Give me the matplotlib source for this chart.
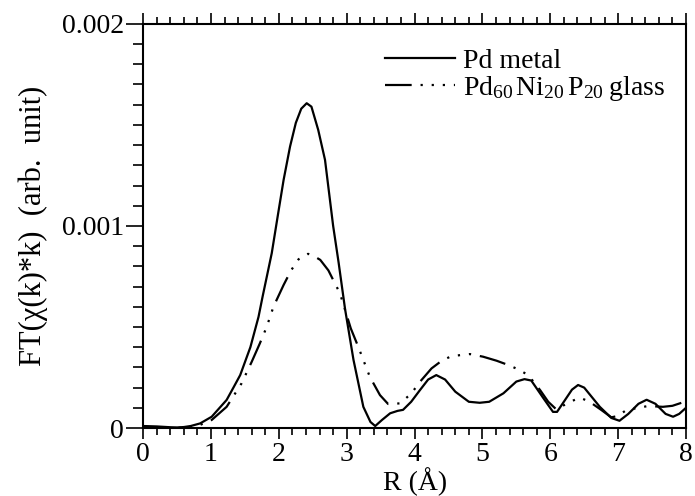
import matplotlib
matplotlib.use("Agg")
import matplotlib.pyplot as plt
from matplotlib.ticker import MultipleLocator

plt.rcParams["font.family"] = ["Liberation Serif", "DejaVu Serif"]
plt.rcParams["mathtext.fontset"] = "custom"
plt.rcParams["mathtext.rm"] = "Liberation Serif"
plt.rcParams["mathtext.it"] = "Liberation Serif:italic"

# Fourier transform magnitude |FT(chi(k)*k)| vs R
r_metal = [0.0, 0.2, 0.4, 0.5, 0.6, 0.7, 0.84, 1.01, 1.1, 1.23, 1.33, 1.43,
           1.58, 1.70, 1.76, 1.895, 1.99, 2.07, 2.165, 2.25, 2.33, 2.41,
           2.48, 2.58, 2.68, 2.80, 2.88, 2.975, 3.10, 3.245, 3.35, 3.42,
           3.52, 3.64, 3.75, 3.83, 3.95, 4.08, 4.2, 4.32, 4.45, 4.6, 4.8,
           4.96, 5.1, 5.31, 5.5, 5.62, 5.72, 5.9, 6.04, 6.1, 6.2, 6.32,
           6.41, 6.5, 6.73, 6.9, 7.02, 7.15, 7.3, 7.42, 7.55, 7.7, 7.81,
           7.9, 8.0]
ft_metal = [0.000010, 0.000008, 0.000004, 0.000003, 0.000005, 0.000010,
            0.000023, 0.000056, 0.000090, 0.000139, 0.000200, 0.000262,
            0.000400, 0.000550, 0.000650, 0.000865, 0.001063, 0.001228,
            0.001393, 0.001510, 0.001580, 0.001607, 0.001590, 0.001475,
            0.001327, 0.001000, 0.000820, 0.000590, 0.000337, 0.000105,
            0.000030, 0.000010, 0.000040, 0.000073, 0.000085, 0.000090,
            0.000130, 0.000188, 0.000240, 0.000262, 0.000240, 0.000180,
            0.000130, 0.000125, 0.000130, 0.000172, 0.000230, 0.000242,
            0.000235, 0.000147, 0.000080, 0.000080, 0.000130, 0.000190,
            0.000213, 0.000200, 0.000105, 0.000050, 0.000036, 0.000070,
            0.000120, 0.000140, 0.000120, 0.000070, 0.000056, 0.000070,
            0.000100]

r_glass = [0.0, 0.5, 0.8, 1.01, 1.23, 1.45, 1.60, 1.72, 1.82, 1.92, 2.07,
           2.18, 2.29, 2.43, 2.52, 2.61, 2.73, 2.80, 2.90, 3.06, 3.17, 3.34,
           3.49, 3.61, 3.785, 3.95, 4.08, 4.25, 4.40, 4.545, 4.815, 5.01,
           5.21, 5.38, 5.53, 5.675, 5.85, 5.97, 6.09, 6.29, 6.44, 6.58,
           6.75, 6.90, 7.0, 7.12, 7.3, 7.44, 7.66, 7.8, 7.98]
ft_glass = [0.0, 0.0, 0.000010, 0.000040, 0.000105, 0.000221, 0.000328,
            0.000419, 0.000500, 0.000600, 0.000708, 0.000780, 0.000835,
            0.000862, 0.000850, 0.000832, 0.000780, 0.000733, 0.000667,
            0.000493, 0.000402, 0.000254, 0.000163, 0.000119, 0.000122,
            0.000170, 0.000229, 0.000295, 0.000333, 0.000356, 0.000366,
            0.000353, 0.000333, 0.000312, 0.000290, 0.000262, 0.000188,
            0.000130, 0.000092, 0.000130, 0.000150, 0.000130, 0.000090,
            0.000053, 0.000060, 0.000089, 0.000100, 0.000109, 0.000105,
            0.000110, 0.000130]

fig = plt.figure(figsize=(6.95, 4.96), dpi=100)
ax = fig.add_axes([0.206, 0.137, 0.781, 0.815])

ax.plot(r_metal, ft_metal, color="black", lw=1.6, label="Pd metal")
ax.plot(r_glass, ft_glass, color="black", lw=1.6,
        dashes=(12, 4, 1.0, 4, 1.0, 4, 1.0, 4),
        label=r"Pd$_{60}\,$Ni$_{20}\,$P$_{20}\;$glass")

ax.set_xlim(0, 8)
ax.set_ylim(0, 0.002)
ax.xaxis.set_major_locator(MultipleLocator(1))
ax.xaxis.set_minor_locator(MultipleLocator(0.2))
ax.yaxis.set_major_locator(MultipleLocator(0.001))
ax.yaxis.set_minor_locator(MultipleLocator(0.0001))
ax.yaxis.set_major_formatter(plt.FuncFormatter(
    lambda v, p: "0" if v == 0 else f"{v:.3f}"))

ax.tick_params(which="both", direction="out", top=True, right=False,
               labelsize=20, width=1.2, pad=2)
ax.tick_params(axis="x", which="major", length=8)
ax.tick_params(axis="x", which="minor", length=5)
ax.tick_params(axis="y", which="major", length=12)
ax.tick_params(axis="y", which="minor", length=7)
for s in ax.spines.values():
    s.set_linewidth(1.5)

ax.set_xlabel("R (Å)", fontsize=20, labelpad=0)
ax.set_ylabel("FT(χ(k)*k)  (arb.  unit)", fontsize=22, labelpad=10)

ax.legend(loc="upper left", bbox_to_anchor=(0.446, 0.94), frameon=False,
          fontsize=20, handlelength=2.5, handletextpad=0.3,
          labelspacing=0.0, borderaxespad=0.0, borderpad=0.0)

fig.savefig("out.png", dpi=100)
